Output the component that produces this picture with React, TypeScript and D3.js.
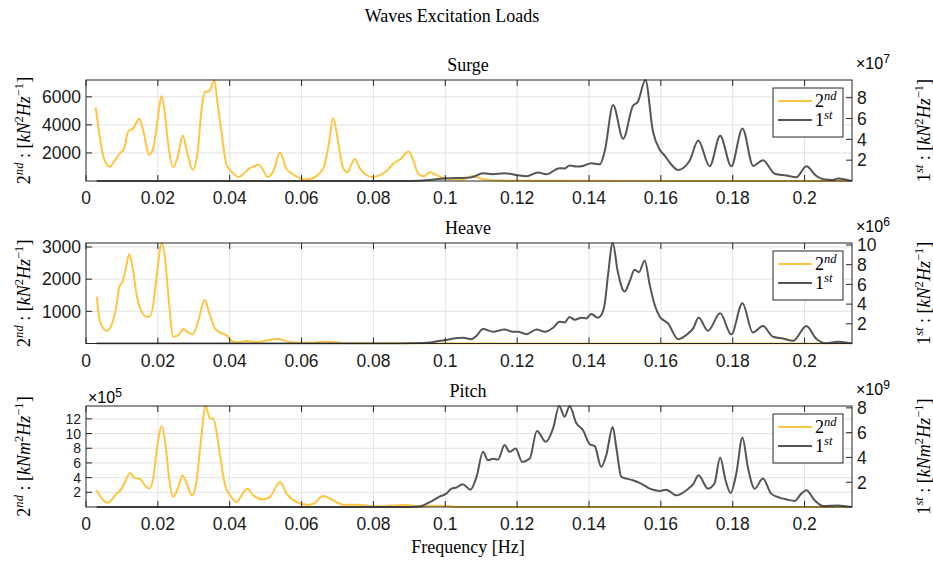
import * as d3 from 'd3'

// frequency axis
const freqDomain = [0, 0.2132]
const freqTicks = [0, 0.02, 0.04, 0.06, 0.08, 0.1, 0.12, 0.14, 0.16, 0.18, 0.2]

// [frequency Hz, value] ; 2nd order on left axis, 1st order on right axis
const surge2nd: [number, number][] = [
  [0.0027, 5250], [0.004, 2900], [0.005, 1600], [0.0066, 1030], [0.008, 1450], [0.0095, 1990],
  [0.0105, 2250], [0.0118, 3550], [0.0132, 3760], [0.0148, 4440], [0.0162, 3300], [0.0175, 1870],
  [0.0187, 2330], [0.0199, 4300], [0.021, 6060], [0.0219, 4900], [0.0229, 2570], [0.0243, 990],
  [0.0256, 1800], [0.0269, 3240], [0.0282, 2000], [0.0297, 800], [0.031, 1900], [0.0322, 5200],
  [0.0331, 6350], [0.0343, 6400], [0.0357, 7200], [0.0366, 5600], [0.0378, 3300], [0.0391, 1150],
  [0.041, 560], [0.0424, 280], [0.0438, 500], [0.0452, 850], [0.0468, 1050], [0.048, 1180],
  [0.0492, 820], [0.0505, 280], [0.0521, 700], [0.054, 2030], [0.0557, 900], [0.0575, 500],
  [0.0595, 200], [0.061, 110], [0.0628, 180], [0.0648, 500], [0.0662, 1000], [0.0675, 2500],
  [0.0688, 4500], [0.0701, 2900], [0.0716, 900], [0.0728, 620], [0.0738, 1150], [0.0748, 1560],
  [0.0762, 900], [0.0778, 480], [0.0795, 280], [0.0815, 380], [0.0838, 750], [0.0858, 1300],
  [0.0875, 1550], [0.0898, 2100], [0.0912, 1400], [0.0925, 500], [0.094, 330], [0.0957, 620],
  [0.0975, 420], [0.0995, 220], [0.102, 130], [0.1045, 100], [0.1062, 220], [0.1077, 360],
  [0.1095, 200], [0.112, 80], [0.116, 30], [0.122, 10], [0.2132, 0],
]
const surge1st: [number, number][] = [
  [0.003, 0], [0.088, 0], [0.0929, 0.03], [0.1003, 0.26], [0.1059, 0.32], [0.1077, 0.39],
  [0.1105, 0.74], [0.1133, 0.65], [0.1165, 0.74], [0.1198, 0.58], [0.1226, 0.45], [0.1258, 0.81],
  [0.1281, 0.65], [0.1318, 1.23], [0.1332, 1.2], [0.1346, 1.49], [0.1365, 1.39], [0.1383, 1.45],
  [0.1406, 1.71], [0.143, 1.6], [0.1444, 2.9], [0.1467, 7.3], [0.1495, 4.05], [0.1522, 7.2],
  [0.1536, 7.6], [0.1557, 9.7], [0.1578, 4.76], [0.1597, 3.0], [0.161, 2.47], [0.1629, 1.59],
  [0.1648, 1.06], [0.168, 1.94], [0.1704, 3.88], [0.1736, 1.41], [0.1765, 4.34], [0.1796, 1.41],
  [0.1827, 5.04], [0.1857, 1.45], [0.1884, 2.0], [0.1917, 0.7], [0.1949, 0.53], [0.1977, 0.35],
  [0.2005, 1.41], [0.2032, 0.5], [0.2051, 0.18], [0.208, 0.1], [0.2093, 0.25], [0.2132, 0],
]

const heave2nd: [number, number][] = [
  [0.003, 1460], [0.0039, 680], [0.0058, 390], [0.0071, 570], [0.0085, 1200], [0.0093, 1770],
  [0.0102, 1930], [0.0111, 2340], [0.012, 2780], [0.013, 2340], [0.0141, 1510], [0.0155, 990],
  [0.0169, 830], [0.0178, 840], [0.0187, 1200], [0.0197, 2130], [0.0211, 3125], [0.022, 2650],
  [0.023, 1400], [0.0243, 210], [0.0257, 260], [0.0271, 450], [0.0285, 340], [0.0297, 290],
  [0.0312, 680], [0.033, 1350], [0.0345, 880], [0.0359, 470], [0.0373, 340], [0.0391, 260],
  [0.0405, 80], [0.0419, 40], [0.0447, 75], [0.0475, 35], [0.0502, 95], [0.0535, 140],
  [0.0567, 45], [0.0595, 20], [0.063, 25], [0.066, 55], [0.0685, 50], [0.072, 10], [0.08, 5],
  [0.2132, 0],
]
const heave1st: [number, number][] = [
  [0.003, 0], [0.085, 0], [0.0901, 0.02], [0.0948, 0.07], [0.0985, 0.27], [0.1013, 0.44],
  [0.105, 0.58], [0.1073, 0.44], [0.1087, 0.78], [0.1105, 1.46], [0.1133, 1.19], [0.1165, 1.43],
  [0.1188, 1.19], [0.1202, 1.2], [0.1226, 0.95], [0.1254, 1.43], [0.1277, 1.19], [0.13, 1.6],
  [0.1318, 2.21], [0.1332, 2.14], [0.1346, 2.69], [0.136, 2.41], [0.1379, 2.62], [0.1393, 2.55],
  [0.1406, 2.99], [0.1425, 2.62], [0.1434, 2.89], [0.1444, 4.08], [0.1453, 6.97], [0.1466, 10.2],
  [0.148, 7.3], [0.1499, 5.27], [0.1513, 6.29], [0.1527, 7.48], [0.1539, 7.24], [0.1555, 8.43],
  [0.1569, 5.95], [0.1583, 3.91], [0.1597, 2.72], [0.162, 2.04], [0.1648, 0.44], [0.1676, 1.02],
  [0.169, 1.53], [0.1705, 2.65], [0.1731, 1.29], [0.1765, 3.06], [0.1796, 0.92], [0.1827, 4.08],
  [0.1856, 1.12], [0.1884, 1.77], [0.1912, 0.68], [0.194, 0.51], [0.1968, 0.27], [0.2005, 1.77],
  [0.2032, 0.51], [0.206, 0.02], [0.2093, 0.17], [0.2132, 0],
]

const pitch2nd: [number, number][] = [
  [0.003, 2.28], [0.0044, 1.14], [0.0062, 0.59], [0.0081, 1.59], [0.0099, 2.5], [0.0111, 3.64],
  [0.0122, 4.64], [0.0136, 3.96], [0.015, 3.82], [0.0164, 2.96], [0.0176, 2.5], [0.0187, 3.87],
  [0.0198, 8.19], [0.0211, 11.0], [0.0222, 8.19], [0.0232, 3.64], [0.0243, 1.37], [0.0257, 2.73],
  [0.0269, 4.33], [0.028, 3.19], [0.0295, 1.59], [0.0308, 3.64], [0.032, 9.1], [0.0333, 13.75],
  [0.0345, 12.06], [0.0354, 12.06], [0.0364, 10.0], [0.0375, 6.37], [0.0387, 2.96], [0.0401, 1.59],
  [0.0419, 0.68], [0.0433, 1.59], [0.0449, 2.5], [0.0465, 1.59], [0.0493, 1.05], [0.0512, 1.37],
  [0.054, 3.4], [0.0558, 1.82], [0.0586, 0.68], [0.0618, 0.3], [0.0635, 0.5], [0.066, 1.5],
  [0.0688, 0.91], [0.0716, 0.32], [0.0753, 0.32], [0.0799, 0.09], [0.0892, 0.27], [0.0929, 0.09],
  [0.0985, 0.18], [0.104, 0], [0.2132, 0],
]
const pitch1st: [number, number][] = [
  [0.003, 0], [0.0873, 0], [0.0929, 0.05], [0.0957, 0.4], [0.0985, 0.86], [0.1003, 1.08],
  [0.1017, 1.48], [0.1031, 1.57], [0.1048, 1.84], [0.107, 1.4], [0.1087, 2.43], [0.1105, 4.45],
  [0.1119, 3.78], [0.1133, 3.89], [0.1147, 3.83], [0.1165, 5.0], [0.1179, 4.45], [0.1196, 4.72],
  [0.1214, 3.64], [0.1235, 3.91], [0.1255, 6.13], [0.128, 5.26], [0.13, 6.34], [0.1317, 8.15],
  [0.1332, 7.29], [0.1346, 8.12], [0.1365, 6.75], [0.1383, 6.21], [0.1402, 5.07], [0.1416, 4.91],
  [0.1434, 3.24], [0.1448, 4.18], [0.1466, 6.45], [0.1476, 4.8], [0.149, 2.43], [0.1504, 2.29],
  [0.1522, 2.16], [0.1545, 1.89], [0.1569, 1.48], [0.1597, 1.3], [0.1615, 1.4], [0.1643, 0.94],
  [0.1671, 1.35], [0.169, 1.84], [0.1705, 2.56], [0.1731, 1.48], [0.1749, 1.89], [0.1765, 3.99],
  [0.178, 2.16], [0.1794, 1.13], [0.181, 2.7], [0.1827, 5.61], [0.1842, 3.24], [0.1861, 1.48],
  [0.1884, 2.29], [0.1907, 1.08], [0.193, 0.76], [0.1949, 0.62], [0.1972, 0.49], [0.1991, 1.08],
  [0.2005, 1.35], [0.2028, 0.54], [0.2051, 0.08], [0.2093, 0.13], [0.2132, 0],
]

const surgeLeftTicks = [2000, 4000, 6000]
const surgeRightTicks = [2, 4, 6, 8]
const heaveLeftTicks = [1000, 2000, 3000]
const heaveRightTicks = [2, 4, 6, 8, 10]
const pitchLeftTicks = [2, 4, 6, 8, 10, 12]
const pitchRightTicks = [2, 4, 6, 8]

const SERIF = '"Liberation Serif", "Times New Roman", serif'
const SANS = '"Liberation Sans", Arial, Helvetica, sans-serif'
const YELLOW = '#FFC540'
const GREY = '#555555'
const AXIS = '#262626'
const GRID = '#e2e2e2'

const X0 = 86
const X1 = 852
const x = d3.scaleLinear().domain(freqDomain).range([X0, X1])

type Part = { t: string; it?: boolean; sup?: boolean }

function mathSpans(parts: Part[], size: number) {
  let up = false
  return parts.map((p, i) => {
    let dy = 0
    if (p.sup && !up) { dy = -size * 0.4; up = true }
    else if (!p.sup && up) { dy = size * 0.4; up = false }
    return (
      <tspan key={i} dy={dy} fontStyle={p.it ? 'italic' : 'normal'} fontSize={p.sup ? size * 0.7 : size}>
        {p.t}
      </tspan>
    )
  })
}

function unitParts(order: string, moment: boolean): Part[] {
  return [
    { t: order[0] },
    { t: order.slice(1), it: true, sup: true },
    { t: ' : [' },
    { t: moment ? 'kNm' : 'kN', it: true },
    { t: '2', sup: true },
    { t: 'Hz', it: true },
    { t: '\u22121', sup: true },
    { t: ']' },
  ]
}

function Exponent({ x0, y0, p }: { x0: number; y0: number; p: number }) {
  return (
    <text x={x0} y={y0} fontFamily={SANS} fontSize={16} fill="#000">
      <tspan>×10</tspan>
      <tspan dy={-6} fontSize={12}>{p}</tspan>
    </text>
  )
}

function Panel(props: {
  id: string
  title: string
  top: number
  bottom: number
  left: [number, number][]
  right: [number, number][]
  leftTicks: number[]
  rightTicks: number[]
  leftExp?: number
  rightExp: number
  moment: boolean
  leftFont?: number
}) {
  const { id, title, top, bottom, left, right, leftTicks, rightTicks, leftExp, rightExp, moment } = props
  const leftFont = props.leftFont ?? 17.5
  const yL = d3.scaleLinear().domain([0, d3.max(left, d => d[1]) as number]).range([bottom, top])
  const yR = d3.scaleLinear().domain([0, d3.max(right, d => d[1]) as number]).range([bottom, top])
  const lineL = d3.line<[number, number]>().x(d => x(d[0])).y(d => yL(d[1])).curve(d3.curveMonotoneX)
  const lineR = d3.line<[number, number]>().x(d => x(d[0])).y(d => yR(d[1])).curve(d3.curveMonotoneX)
  const tk = 6
  const mid = (top + bottom) / 2
  const lgTop = top + 8
  const lgX = 773

  return (
    <g>
      <defs>
        <clipPath id={id}>
          <rect x={X0} y={top - 1} width={X1 - X0} height={bottom - top + 2} />
        </clipPath>
      </defs>
      <rect x={X0} y={top} width={X1 - X0} height={bottom - top} fill="#fff" />
      {/* grid */}
      {freqTicks.slice(1).map(t => (
        <line key={'gx' + t} x1={x(t)} x2={x(t)} y1={top} y2={bottom} stroke={GRID} strokeWidth={1} />
      ))}
      {leftTicks.map(t => (
        <line key={'gy' + t} x1={X0} x2={X1} y1={yL(t)} y2={yL(t)} stroke={GRID} strokeWidth={1} />
      ))}
      {/* data */}
      <g clipPath={`url(#${id})`}>
        <path d={lineL(left) ?? ''} fill="none" stroke={YELLOW} strokeWidth={2} strokeLinejoin="round" />
        <path d={lineR(right) ?? ''} fill="none" stroke={GREY} strokeWidth={2} strokeLinejoin="round" />
      </g>
      {/* box and ticks */}
      <rect x={X0} y={top} width={X1 - X0} height={bottom - top} fill="none" stroke={AXIS} strokeWidth={1} />
      {freqTicks.map(t => (
        <g key={'tx' + t}>
          <line x1={x(t)} x2={x(t)} y1={bottom} y2={bottom - tk} stroke={AXIS} />
          <line x1={x(t)} x2={x(t)} y1={top} y2={top + tk} stroke={AXIS} />
          <text x={x(t)} y={bottom + 23} textAnchor="middle" fontFamily={SANS} fontSize={17.5} fill="#1a1a1a">
            {t}
          </text>
        </g>
      ))}
      {leftTicks.map(t => (
        <g key={'tl' + t}>
          <line x1={X0} x2={X0 + tk} y1={yL(t)} y2={yL(t)} stroke={AXIS} />
          <text x={X0 - 5} y={yL(t)} dy="0.36em" textAnchor="end" fontFamily={SANS} fontSize={leftFont} fill="#1a1a1a">
            {t}
          </text>
        </g>
      ))}
      {rightTicks.map(t => (
        <g key={'tr' + t}>
          <line x1={X1} x2={X1 - tk} y1={yR(t)} y2={yR(t)} stroke={AXIS} />
          <text x={X1 + 5} y={yR(t)} dy="0.36em" fontFamily={SANS} fontSize={17.5} fill="#1a1a1a">
            {t}
          </text>
        </g>
      ))}
      {leftExp !== undefined && <Exponent x0={X0 + 2} y0={top - 3} p={leftExp} />}
      <Exponent x0={X1 + 4} y0={top - 11} p={rightExp} />
      {/* title */}
      <text x={468} y={top - 9} textAnchor="middle" fontFamily={SERIF} fontSize={18} fill="#000">
        {title}
      </text>
      {/* y labels */}
      <text transform={`translate(30,${mid}) rotate(-90)`} textAnchor="middle" fontFamily={SERIF} fontSize={18} fill="#000" style={{ whiteSpace: 'pre' }}>
        {mathSpans(unitParts('2nd', moment), 18)}
      </text>
      <text transform={`translate(930,${mid}) rotate(-90)`} textAnchor="middle" fontFamily={SERIF} fontSize={18} fill="#000" style={{ whiteSpace: 'pre' }}>
        {mathSpans(unitParts('1st', moment), 18)}
      </text>
      {/* legend */}
      <rect x={lgX} y={lgTop} width={70} height={49} fill="#fff" stroke={AXIS} strokeWidth={1} />
      <line x1={lgX + 5} x2={lgX + 39} y1={lgTop + 13} y2={lgTop + 13} stroke={YELLOW} strokeWidth={2} />
      <line x1={lgX + 5} x2={lgX + 39} y1={lgTop + 32} y2={lgTop + 32} stroke={GREY} strokeWidth={2} />
      <text x={lgX + 42} y={lgTop + 19} fontFamily={SERIF} fontSize={18} fill="#000">
        {mathSpans([{ t: '2' }, { t: 'nd', it: true, sup: true }], 18)}
      </text>
      <text x={lgX + 42} y={lgTop + 38} fontFamily={SERIF} fontSize={18} fill="#000">
        {mathSpans([{ t: '1' }, { t: 'st', it: true, sup: true }], 18)}
      </text>
    </g>
  )
}

export default function App() {
  return (
    <svg width={933} height={562} style={{ display: 'block', position: 'absolute', left: 0, top: 0, background: '#fff' }}>
      <rect width={933} height={562} fill="#fff" />
      <text x={452} y={22} textAnchor="middle" fontFamily={SERIF} fontSize={18} fill="#000">
        Waves Excitation Loads
      </text>
      <Panel id="clipSurge" title="Surge" top={80} bottom={181} left={surge2nd} right={surge1st}
        leftTicks={surgeLeftTicks} rightTicks={surgeRightTicks} rightExp={7} moment={false} />
      <Panel id="clipHeave" title="Heave" top={243} bottom={343.5} left={heave2nd} right={heave1st}
        leftTicks={heaveLeftTicks} rightTicks={heaveRightTicks} rightExp={6} moment={false} />
      <Panel id="clipPitch" title="Pitch" top={406} bottom={507} left={pitch2nd} right={pitch1st}
        leftTicks={pitchLeftTicks} rightTicks={pitchRightTicks} leftExp={5} rightExp={9} moment={true}
        leftFont={14} />
      <text x={468} y={553} textAnchor="middle" fontFamily={SERIF} fontSize={18} fill="#000">
        Frequency [Hz]
      </text>
    </svg>
  )
}
